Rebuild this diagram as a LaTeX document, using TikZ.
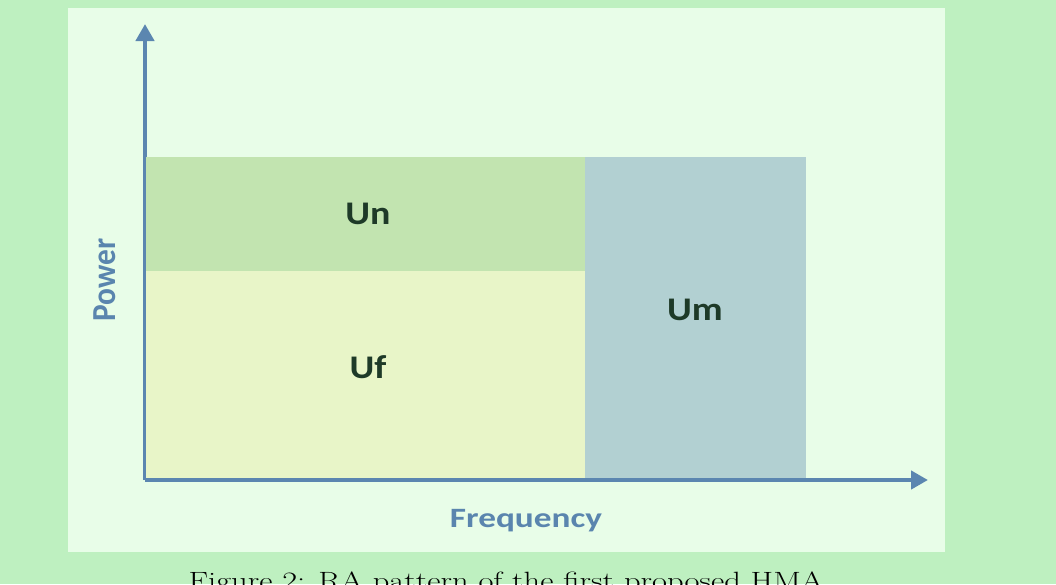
\documentclass[tikz,border=0pt]{standalone}
\usepackage{fontspec}
\setsansfont{Carlito}
\usetikzlibrary{arrows.meta}
\definecolor{outerbg}{HTML}{BEF0C0}
\definecolor{panelbg}{HTML}{E8FDE8}
\definecolor{uncol}{HTML}{C2E4B0}
\definecolor{ufcol}{HTML}{E8F5C8}
\definecolor{umcol}{HTML}{B2D0D2}
\definecolor{axiscol}{HTML}{5B86B0}
\definecolor{axtext}{HTML}{5A85AE}
\definecolor{blocktext}{HTML}{1E3A28}
\tikzset{
  block/.style={draw=none, inner sep=0pt},
  blocklabel/.style={text=blocktext, font=\sffamily\bfseries\fontsize{33}{33}\selectfont, inner sep=0pt},
  axislabel/.style={text=axtext, font=\sffamily\bfseries\fontsize{28}{28}\selectfont, inner sep=0pt},
  axisline/.style={draw=axiscol, line width=4.5pt, -{Triangle[length=17pt,width=18pt]}}
}
\begin{document}
\begin{tikzpicture}[x=1pt,y=-1pt]
\useasboundingbox (0,0) rectangle (1056,584);
\clip (0,0) rectangle (1056,584);
\fill[outerbg] (0,0) rectangle (1056,584);
\fill[panelbg] (68,8) rectangle (945,552);
% axes
\coordinate (origin) at (145,480);
\coordinate (ytip) at (145,24);
\coordinate (xtip) at (928,480);
\draw[axisline] (origin) -- (ytip);
% blocks
\fill[uncol] (146,157) rectangle (585,271);
\fill[ufcol] (146,271) rectangle (585,479);
\fill[umcol] (585,157) rectangle (806,479);
\draw[axisline] (origin) -- (xtip);
% labels
\node[blocklabel] (un) at (368,214) {\scalebox{1.15}[1]{Un}};
\node[blocklabel] (uf) at (368,367) {\scalebox{1.15}[1]{Uf}};
\node[blocklabel] (um) at (695,310) {\scalebox{1.15}[1]{Um}};
\node[axislabel] (freq) at (526,521) {\scalebox{1.26}[1]{Frequency}};
\node[axislabel, rotate=90] (power) at (105,280) {\scalebox{1.12}[1.2]{Power}};
\node[inner sep=0pt, anchor=north, font=\fontsize{25}{25}\selectfont] (cap) at (506,572) {\scalebox{1.3}[1]{Figure 2: RA pattern of the first proposed HMA}};
\end{tikzpicture}
\end{document}
